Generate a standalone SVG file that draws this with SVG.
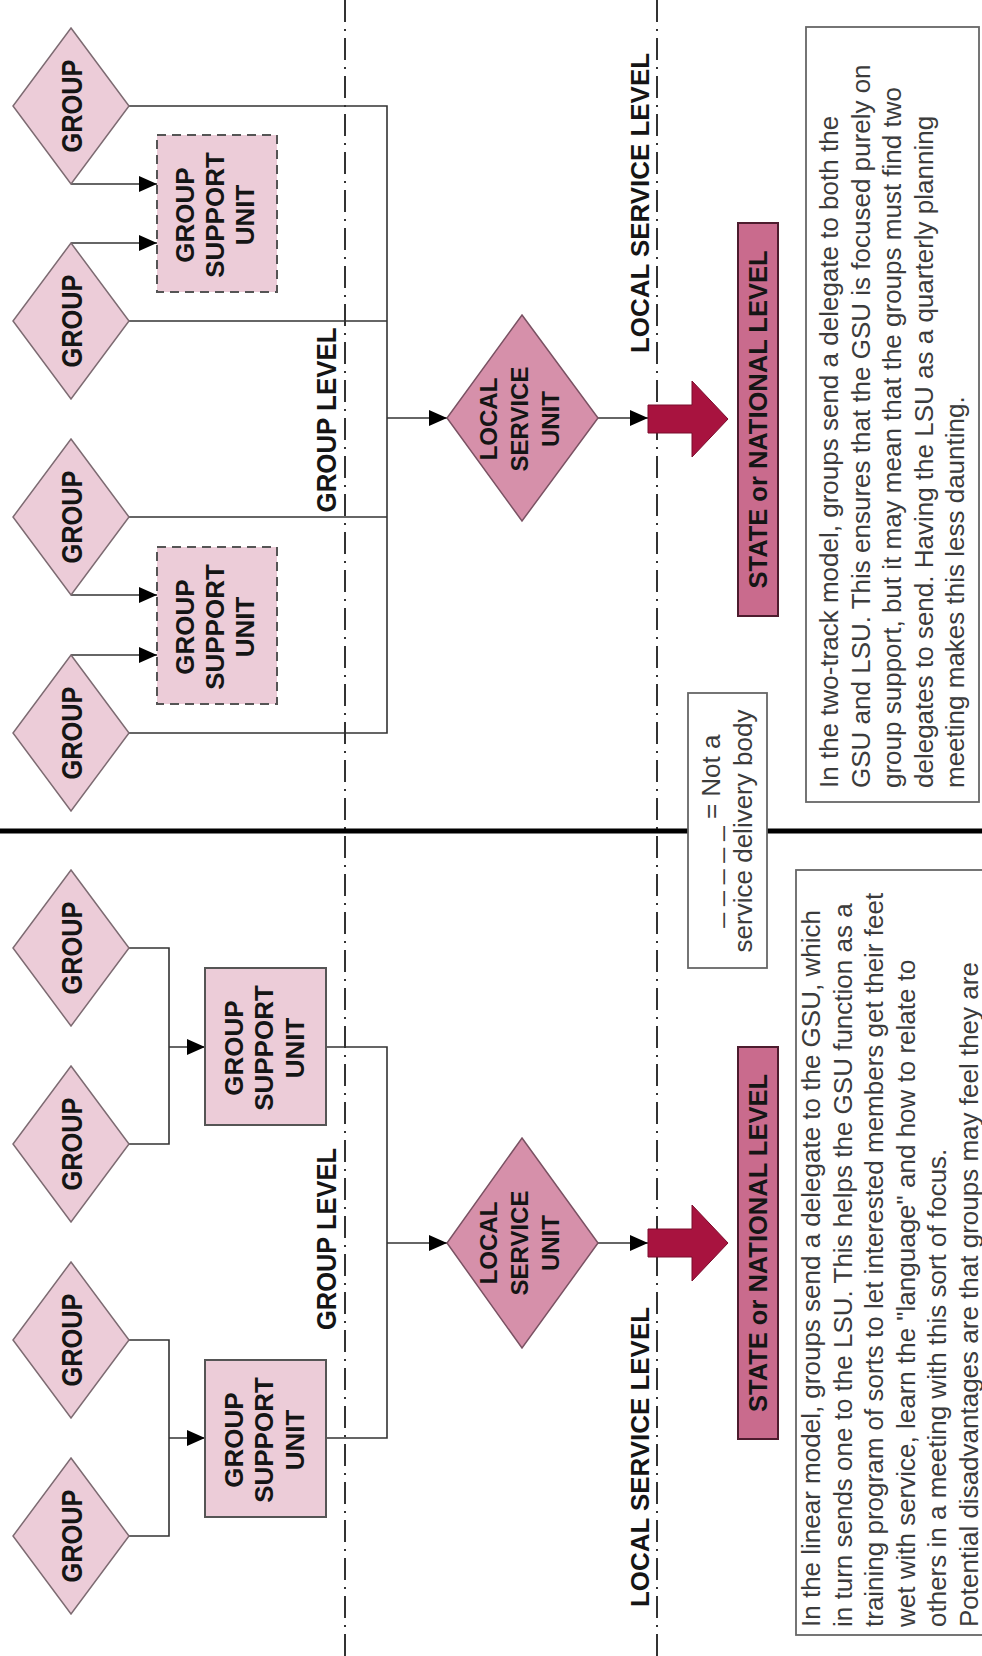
<svg xmlns="http://www.w3.org/2000/svg" width="982" height="1656" viewBox="0 0 982 1656">
<style>
.grp{fill:#ecccd8;stroke:#7d6b72;stroke-width:1.5}
.gsu{fill:#ecccd8;stroke:#555;stroke-width:2}
.dash{stroke-dasharray:9 6}
.lsu{fill:#d690aa;stroke:#7a5263;stroke-width:1.5}
.state{fill:#c96b8d;stroke:#4d1c2e;stroke-width:2}
.bigarrow{fill:#a8133f;stroke:#7a0c2c;stroke-width:1}
.b{font-family:"Liberation Sans",Arial,sans-serif;font-weight:bold;fill:#151515;text-anchor:middle}
.g{font-size:29px}
.t{font-family:"Liberation Sans",Arial,sans-serif;font-size:26px;fill:#3c3c3c}
.conn{fill:none;stroke:#333;stroke-width:1.6}
.level{fill:none;stroke:#333;stroke-width:2;stroke-dasharray:22 7 2 7}
.divider{stroke:#000;stroke-width:5}
.box{fill:#fff;stroke:#666;stroke-width:1.8}
</style>
<defs>
<marker id="ah" markerWidth="18" markerHeight="16" refX="18" refY="8" orient="auto" markerUnits="userSpaceOnUse"><path d="M0,0 L18,8 L0,16 z" fill="#000"/></marker>
</defs>
<rect width="982" height="1656" fill="#fff"/>

<!-- level lines and divider -->
<g id="levels">
<line class="level" x1="345" y1="0" x2="345" y2="1656"/>
<line class="level" x1="657" y1="0" x2="657" y2="1656"/>
<line class="divider" x1="0" y1="831" x2="688" y2="831"/>
<line class="divider" x1="767" y1="831" x2="982" y2="831"/>
<text class="b" font-size="27" textLength="185" lengthAdjust="spacingAndGlyphs" transform="translate(0,420) rotate(-90)" x="0" y="336">GROUP LEVEL</text>
<text class="b" font-size="27" textLength="182" lengthAdjust="spacingAndGlyphs" transform="translate(0,1239) rotate(-90)" x="0" y="336">GROUP LEVEL</text>
<text class="b" font-size="26" textLength="300" lengthAdjust="spacingAndGlyphs" transform="translate(0,203) rotate(-90)" x="0" y="649">LOCAL SERVICE LEVEL</text>
<text class="b" font-size="26" textLength="300" lengthAdjust="spacingAndGlyphs" transform="translate(0,1457) rotate(-90)" x="0" y="649">LOCAL SERVICE LEVEL</text>
</g>

<!-- connectors -->
<g id="connectors">
<path class="conn" d="M129,106 H387 V733 H129"/>
<path class="conn" d="M129,321 H387"/>
<path class="conn" d="M129,517 H387"/>
<path class="conn" d="M387,418 H447" marker-end="url(#ah)"/>
<path class="conn" d="M71,184 H157" marker-end="url(#ah)"/>
<path class="conn" d="M71,243 H157" marker-end="url(#ah)"/>
<path class="conn" d="M71,595 H157" marker-end="url(#ah)"/>
<path class="conn" d="M71,655 H157" marker-end="url(#ah)"/>
<path class="conn" d="M598,418 H648" marker-end="url(#ah)"/>

<path class="conn" d="M129,948 H169 V1144 H129"/>
<path class="conn" d="M169,1047 H205" marker-end="url(#ah)"/>
<path class="conn" d="M129,1340 H169 V1536 H129"/>
<path class="conn" d="M169,1438 H205" marker-end="url(#ah)"/>
<path class="conn" d="M326,1047 H387 V1438 H326"/>
<path class="conn" d="M387,1243 H447" marker-end="url(#ah)"/>
<path class="conn" d="M598,1243 H648" marker-end="url(#ah)"/>
</g>

<!-- two-track model (top) -->
<g id="tt-group-1"><polygon class="grp" points="71,28 129,106 71,184 13,106"/><text class="b g" textLength="93" lengthAdjust="spacingAndGlyphs" transform="translate(0,106) rotate(-90)" x="0" y="82">GROUP</text></g>
<g id="tt-group-2"><polygon class="grp" points="71,243 129,321 71,399 13,321"/><text class="b g" textLength="93" lengthAdjust="spacingAndGlyphs" transform="translate(0,321) rotate(-90)" x="0" y="82">GROUP</text></g>
<g id="tt-group-3"><polygon class="grp" points="71,439 129,517 71,595 13,517"/><text class="b g" textLength="93" lengthAdjust="spacingAndGlyphs" transform="translate(0,517) rotate(-90)" x="0" y="82">GROUP</text></g>
<g id="tt-group-4"><polygon class="grp" points="71,655 129,733 71,811 13,733"/><text class="b g" textLength="93" lengthAdjust="spacingAndGlyphs" transform="translate(0,733) rotate(-90)" x="0" y="82">GROUP</text></g>
<g id="tt-gsu-1"><rect class="gsu dash" x="157" y="135" width="120" height="157"/><text class="b" font-size="26" transform="translate(0,215) rotate(-90)"><tspan x="0" y="194">GROUP</tspan><tspan x="0" y="224">SUPPORT</tspan><tspan x="0" y="254">UNIT</tspan></text></g>
<g id="tt-gsu-2"><rect class="gsu dash" x="157" y="547" width="120" height="157"/><text class="b" font-size="26" transform="translate(0,627) rotate(-90)"><tspan x="0" y="194">GROUP</tspan><tspan x="0" y="224">SUPPORT</tspan><tspan x="0" y="254">UNIT</tspan></text></g>
<g id="tt-lsu"><polygon class="lsu" points="522,315 598,418 522,521 447,418"/><text class="b" font-size="24" transform="translate(0,419) rotate(-90)"><tspan x="0" y="497">LOCAL</tspan><tspan x="0" y="528">SERVICE</tspan><tspan x="0" y="559">UNIT</tspan></text></g>
<g id="tt-arrow"><polygon class="bigarrow" points="648,405 692,405 692,381 728,419 692,457 692,433 648,433"/></g>
<g id="tt-state"><rect class="state" x="738" y="223" width="40" height="393"/><text class="b" font-size="25" textLength="338" lengthAdjust="spacingAndGlyphs" transform="translate(0,419.5) rotate(-90)" x="0" y="767">STATE or NATIONAL LEVEL</text></g>
<g id="tt-note"><rect class="box" x="806" y="27" width="173" height="775"/><text class="t" transform="translate(0,788) rotate(-90)"><tspan x="0" y="838">In the two-track model, groups send a delegate to both the</tspan><tspan x="0" y="869.5">GSU and LSU. This ensures that the GSU is focused purely on</tspan><tspan x="0" y="901">group support, but it may mean that the groups must find two</tspan><tspan x="0" y="932.5">delegates to send. Having the LSU as a quarterly planning</tspan><tspan x="0" y="964">meeting makes this less daunting.</tspan></text></g>

<!-- legend -->
<g id="legend"><rect class="box" x="688" y="693" width="79" height="275"/><text class="t" text-anchor="middle" fill="#333" transform="translate(0,831) rotate(-90)"><tspan x="0" y="720">_ _ _ _ _ = Not a</tspan><tspan x="0" y="752">service delivery body</tspan></text></g>

<!-- linear model (bottom) -->
<g id="ln-group-1"><polygon class="grp" points="71,870 129,948 71,1026 13,948"/><text class="b g" textLength="93" lengthAdjust="spacingAndGlyphs" transform="translate(0,948) rotate(-90)" x="0" y="82">GROUP</text></g>
<g id="ln-group-2"><polygon class="grp" points="71,1066 129,1144 71,1222 13,1144"/><text class="b g" textLength="93" lengthAdjust="spacingAndGlyphs" transform="translate(0,1144) rotate(-90)" x="0" y="82">GROUP</text></g>
<g id="ln-group-3"><polygon class="grp" points="71,1262 129,1340 71,1418 13,1340"/><text class="b g" textLength="93" lengthAdjust="spacingAndGlyphs" transform="translate(0,1340) rotate(-90)" x="0" y="82">GROUP</text></g>
<g id="ln-group-4"><polygon class="grp" points="71,1458 129,1536 71,1614 13,1536"/><text class="b g" textLength="93" lengthAdjust="spacingAndGlyphs" transform="translate(0,1536) rotate(-90)" x="0" y="82">GROUP</text></g>
<g id="ln-gsu-1"><rect class="gsu" x="205" y="968" width="121" height="157"/><text class="b" font-size="26" transform="translate(0,1048) rotate(-90)"><tspan x="0" y="243">GROUP</tspan><tspan x="0" y="273">SUPPORT</tspan><tspan x="0" y="304">UNIT</tspan></text></g>
<g id="ln-gsu-2"><rect class="gsu" x="205" y="1360" width="121" height="157"/><text class="b" font-size="26" transform="translate(0,1440) rotate(-90)"><tspan x="0" y="243">GROUP</tspan><tspan x="0" y="273">SUPPORT</tspan><tspan x="0" y="304">UNIT</tspan></text></g>
<g id="ln-lsu"><polygon class="lsu" points="522,1138 598,1243 522,1348 447,1243"/><text class="b" font-size="24" transform="translate(0,1243) rotate(-90)"><tspan x="0" y="497">LOCAL</tspan><tspan x="0" y="528">SERVICE</tspan><tspan x="0" y="559">UNIT</tspan></text></g>
<g id="ln-arrow"><polygon class="bigarrow" points="648,1229 692,1229 692,1205 728,1243 692,1281 692,1257 648,1257"/></g>
<g id="ln-state"><rect class="state" x="738" y="1047" width="40" height="392"/><text class="b" font-size="25" textLength="338" lengthAdjust="spacingAndGlyphs" transform="translate(0,1243) rotate(-90)" x="0" y="767">STATE or NATIONAL LEVEL</text></g>
<g id="ln-note"><rect class="box" x="796" y="870" width="200" height="765"/><text class="t" transform="translate(0,1627) rotate(-90)"><tspan x="0" y="820">In the linear model, groups send a delegate to the GSU, which</tspan><tspan x="0" y="851.5">in turn sends one to the LSU. This helps the GSU function as a</tspan><tspan x="0" y="883">training program of sorts to let interested members get their feet</tspan><tspan x="0" y="914.5">wet with service, learn the "language" and how to relate to</tspan><tspan x="0" y="946">others in a meeting with this sort of focus.</tspan><tspan x="0" y="977.5">Potential disadvantages are that groups may feel they are</tspan></text></g>
</svg>
